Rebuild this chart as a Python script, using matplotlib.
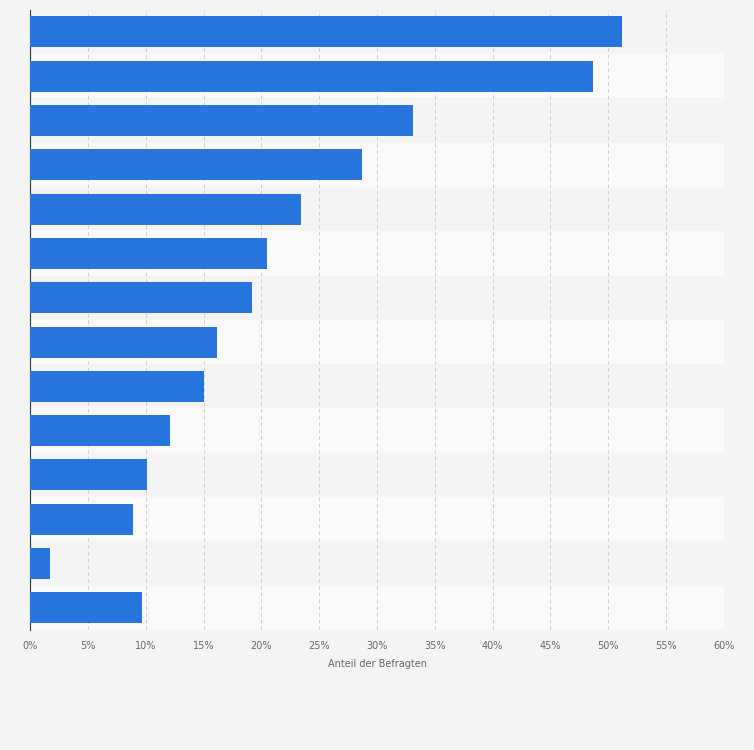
import matplotlib
matplotlib.use('Agg')
import matplotlib.pyplot as plt

values = [51.2, 48.7, 33.1, 28.7, 23.4, 20.5, 19.2, 16.2, 15.0, 12.1, 10.1, 8.9, 1.7, 9.7]
ticks = [0, 5, 10, 15, 20, 25, 30, 35, 40, 45, 50, 55, 60]
tick_labels = [f'{t}%' for t in ticks]

fig = plt.figure(figsize=(7.54, 7.5), dpi=100)
fig.patch.set_facecolor('#f4f4f4')
ax = fig.add_axes([0.0398, 0.16, 0.9204, 0.827])
ax.set_facecolor('#f4f4f4')

n = len(values)
ypos = list(range(n))
for i in ypos:
    ax.axhspan(i - 0.5, i + 0.5, color='#f4f4f4' if i % 2 == 0 else '#fafafa', zorder=0)
ax.barh(ypos, values, height=0.7, color='#2876dd', zorder=3)

ax.set_ylim(n - 0.5, -0.5)
ax.set_xlim(0, 60)
ax.set_xticks(ticks)
ax.set_xticklabels(tick_labels, fontsize=7, color='#666666')
ax.set_yticks([])
ax.grid(axis='x', color='#d0d0d0', linestyle=(0, (4, 3)), linewidth=0.7, zorder=1)
ax.tick_params(axis='x', length=0, pad=8)
for s in ['top', 'right', 'bottom']:
    ax.spines[s].set_visible(False)
ax.spines['left'].set_color('#333333')
ax.set_xlabel('Anteil der Befragten', fontsize=7, color='#666666', labelpad=6)

plt.savefig('out.png', dpi=100, facecolor=fig.get_facecolor())
